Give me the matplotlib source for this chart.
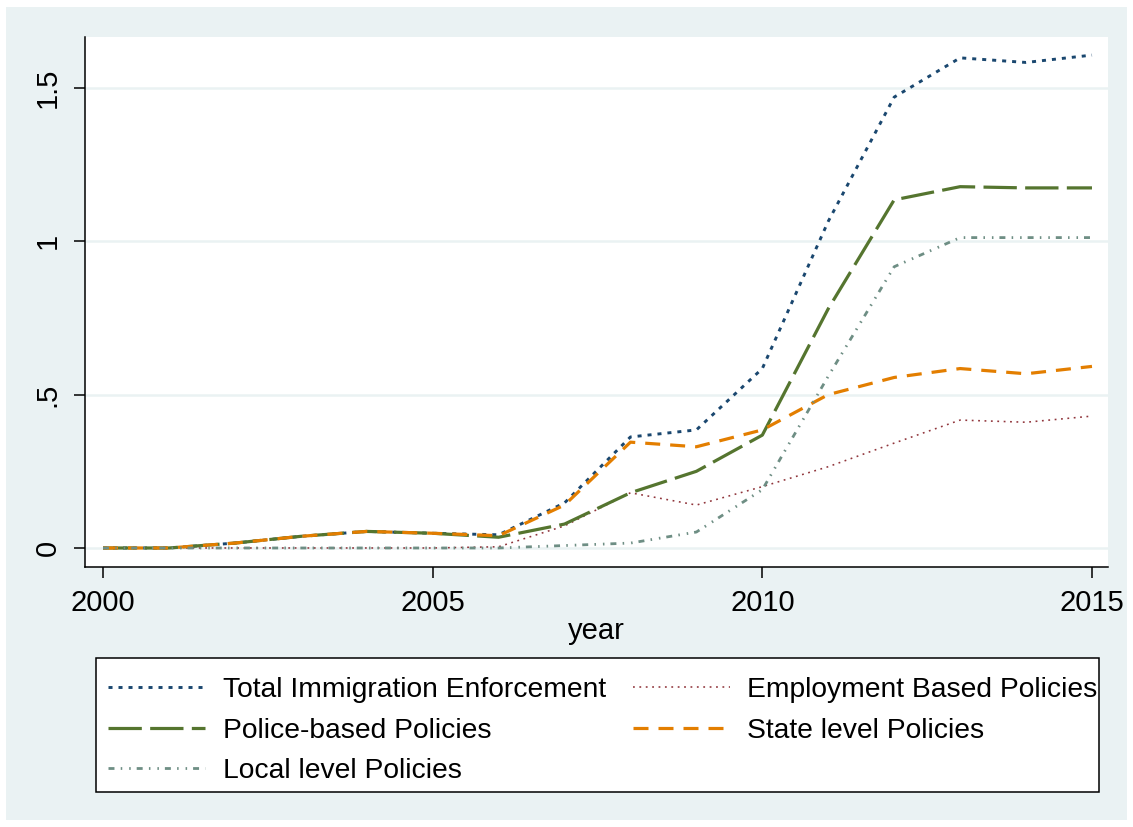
import matplotlib
matplotlib.use("Agg")
import matplotlib.pyplot as plt
from matplotlib.patches import Rectangle

plt.rcParams['font.family'] = ['Liberation Sans', 'DejaVu Sans']
plt.rcParams['lines.scale_dashes'] = False

years = list(range(2000, 2016))
total = [0, 0, 0.016, 0.038, 0.054, 0.048, 0.043, 0.147, 0.362, 0.385, 0.585, 1.065, 1.47, 1.598, 1.583, 1.607]
employment = [0, 0, 0, 0, 0, 0, 0.004, 0.072, 0.18, 0.14, 0.2, 0.265, 0.342, 0.417, 0.41, 0.43]
police = [0, 0, 0.016, 0.038, 0.054, 0.048, 0.035, 0.078, 0.18, 0.25, 0.368, 0.78, 1.135, 1.178, 1.174, 1.174]
state = [0, 0, 0.016, 0.038, 0.054, 0.048, 0.04, 0.14, 0.345, 0.33, 0.385, 0.5, 0.556, 0.585, 0.568, 0.592]
local = [0, 0, 0, 0, 0, 0, 0, 0.008, 0.016, 0.052, 0.19, 0.56, 0.917, 1.012, 1.012, 1.012]

labels = ["Total Immigration Enforcement", "Employment Based Policies",
          "Police-based Policies", "State level Policies", "Local level Policies"]
yticks = [0, 0.5, 1, 1.5]
ytick_labels = ["0", ".5", "1", "1.5"]
xticks = [2000, 2005, 2010, 2015]

W, H = 1133, 827
fig = plt.figure(figsize=(W / 100, H / 100), dpi=100, facecolor='white')
bg = Rectangle((6 / W, 7 / H), (1127 - 6) / W, (820 - 7) / H,
               transform=fig.transFigure, facecolor='#eaf2f3',
               edgecolor='none', zorder=-10)
fig.add_artist(bg)

ax = fig.add_axes([85 / W, 1 - 567 / H, (1108 - 85) / W, (567 - 37) / H])
ax.set_zorder(1)
ax.set_facecolor('white')

l_total, = ax.plot(years, total, color='#1a476f', lw=2.1, dashes=(2.9, 4.3),
                   dash_capstyle='butt', label=labels[0])
l_emp, = ax.plot(years, employment, color='#90353b', lw=1.15, dashes=(1.3, 3.3),
                 dash_capstyle='butt', label=labels[1])
l_pol, = ax.plot(years, police, color='#55752f', lw=2.3, dashes=(24, 6),
                 dash_capstyle='butt', label=labels[2])
l_state, = ax.plot(years, state, color='#e37e00', lw=2.3, dashes=(10.8, 7.2),
                   dash_capstyle='butt', label=labels[3])
l_loc, = ax.plot(years, local, color='#6e8e84', lw=2.0,
                 dashes=(4.3, 4.5, 1.1, 5, 1.1, 4.3),
                 dash_capstyle='butt', label=labels[4])

ax.set_xlim(1999.727, 2015.243)
ax.set_ylim(-0.062, 1.666)
ax.set_yticks(yticks)
ax.set_yticklabels(ytick_labels, rotation=90, va='center')
ax.set_xticks(xticks)
ax.set_xticklabels([str(x) for x in xticks])
ax.tick_params(axis='both', labelsize=21, length=8, width=1.1, color='black')
ax.tick_params(axis='y', pad=9)
ax.tick_params(axis='x', pad=7.5)
ax.grid(axis='y', color='#eaf2f3', lw=1.8)
ax.set_axisbelow(True)
for s in ['top', 'right']:
    ax.spines[s].set_visible(False)
for s in ['left', 'bottom']:
    ax.spines[s].set_linewidth(1.1)
ax.set_xlabel('year', fontsize=21, labelpad=0)

# legend box
box = Rectangle((96 / W, 1 - 792 / H), (1099 - 96) / W, (792 - 658) / H,
                transform=fig.transFigure, facecolor='white', edgecolor='black',
                lw=1.1, zorder=1)
fig.add_artist(box)

handles = [l_total, l_pol, l_loc, l_emp, l_state]
leg = fig.legend(handles=handles, labels=[h.get_label() for h in handles],
                 ncol=2, loc='upper left',
                 bbox_to_anchor=(108 / W, 1 - 677 / H),
                 fontsize=20.3, handlelength=3.45, handletextpad=0.62,
                 columnspacing=0.95, labelspacing=0.52, borderpad=0,
                 borderaxespad=0, frameon=False)
leg.set_zorder(2)

fig.savefig('out.png', dpi=100, facecolor='white')
